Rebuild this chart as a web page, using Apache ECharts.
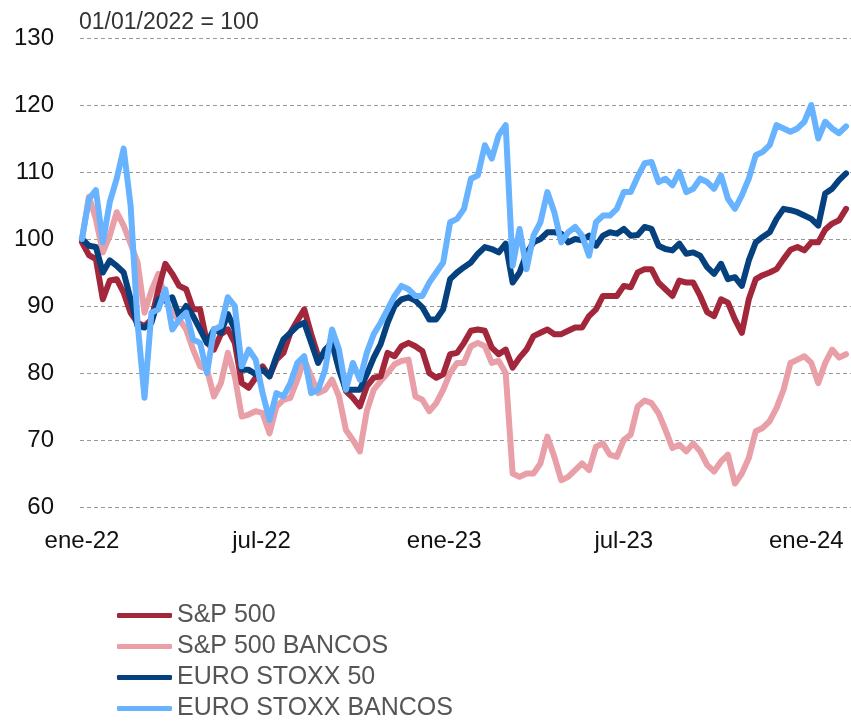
<!DOCTYPE html>
<html>
<head>
<meta charset="utf-8">
<script src="https://cdn.jsdelivr.net/npm/echarts@6/dist/echarts.min.js"></script>
<style>
  html, body { margin: 0; padding: 0; background: #fff; }
  #chart { width: 851px; height: 722px; }
</style>
</head>
<body>
<div id="chart"></div>
<script>
// datos semanales, base 01/01/2022 = 100
const sp500 = [
  99.5, 97.6, 97, 91, 93.8, 94, 92, 89, 87.5, 87, 88, 92.5, 96.3, 94.8, 93, 92.5, 89.5, 89.5, 84.5, 83.5,
  85.8, 86.5, 84.5, 78.5, 77.8, 79.3, 81, 79.5, 82, 83, 86, 87.8, 89.5, 85.8, 82.5, 82.5, 85.3, 81.5, 77.3, 76.3,
  75, 78, 79.3, 79.5, 83, 82.5, 84, 84.5, 84, 83.3, 80, 79.3, 79.8, 82.8, 83, 84.5, 86.3, 86.5, 86.3,
  83.8, 82.8, 83.5, 80.8, 82.3, 83.5, 85.5, 86, 86.5, 85.8, 85.8, 86.3, 86.8, 86.8, 88.5, 89.5, 91.5, 91.5, 91.5, 93,
  92.8, 95, 95.5, 95.5, 93.5, 92.5, 91.5, 93.8, 93.5, 93.5, 91.5, 89.1, 88.5, 91, 90.5, 88, 86, 91, 94,
  94.6, 95, 95.5, 97, 98.4, 98.8, 98.3, 99.5, 99.5, 101.4, 102.3, 102.8, 104.5
];
const sp500Bancos = [
  100, 106.3, 103, 98, 100.5, 104, 102, 99.3, 96.5, 89, 92.3, 94.8, 91, 88.8, 88, 86.5, 83.5, 81, 80.5, 76.5,
  78.5, 83, 79.5, 73.5, 73.8, 74.3, 74, 71, 75, 76, 76.3, 79, 82, 79.5, 77, 77.5, 79, 76.5, 71.5, 70,
  68.3, 74.3, 77.5, 78.8, 80, 81.3, 81.8, 82, 76.5, 76, 74.3, 75.5, 77.5, 80, 81.5, 81.5, 84, 84.5, 84,
  81.5, 81.8, 80, 65, 64.5, 65, 65, 66.5, 70.5, 67.5, 64, 64.5, 65.5, 66.5, 65.5, 69, 69.5, 67.8, 67.5, 70,
  70.8, 75, 75.9, 75.5, 74, 71.5, 68.8, 69.3, 68.3, 69.5, 68.3, 66.3, 65.3, 66.8, 67.8, 63.5, 65, 67.3, 71.3,
  71.8, 72.8, 74.8, 77.5, 81.5, 82, 82.5, 81.5, 78.5, 81.5, 83.5, 82.3, 82.8
];
const euroStoxx50 = [
  100, 99, 98.8, 95, 96.8, 96, 95, 91, 87, 86.8, 87.5, 91, 90.8, 91.3, 88.5, 90, 88.5, 86.5, 84.5, 86.5,
  86, 88.8, 86.5, 80.5, 80.5, 79.8, 80.5, 79.5, 82.5, 85, 86, 87, 87.5, 84.5, 81.5, 83.5, 84.5, 80.5, 77.5, 77.5,
  77.5, 79.8, 82.3, 84.3, 87.5, 90, 91, 91.3, 90.8, 89.8, 88, 88, 89.5, 94, 95, 95.8, 96.5, 97.8, 98.8,
  98.5, 98, 99.3, 93.5, 95, 97.8, 99.5, 100, 101, 101, 100.8, 99.5, 100, 99.8, 100.5, 99, 100.5, 101, 100.8, 101.5,
  100.5, 100.6, 101.8, 101.5, 99, 98.5, 98.3, 99.3, 97.8, 98, 97.5, 95.8, 94.8, 96.3, 94, 94.3, 93, 96.8, 99.5,
  100.3, 101, 103, 104.5, 104.3, 104, 103.5, 103, 102, 106.8, 107.5, 108.8, 109.8
];
const euroStoxxBancos = [
  100, 106, 107.3, 99.5, 105.5, 109, 113.5, 105, 87.5, 76.3, 89, 89.5, 92.5, 86.5, 88, 89, 85, 84.5, 80, 86.5,
  87, 91.3, 90, 81, 83.5, 82, 77, 73, 77, 76.5, 78.5, 81.5, 82.5, 77, 77.5, 80.5, 86.5, 83.5, 77.5, 81.5,
  79, 83, 85.8, 87.5, 89.5, 91.5, 93, 92.5, 91.5, 91.5, 93.5, 95, 96.5, 102.5, 103, 104.5, 109, 109.5, 114,
  112, 115.5, 117, 96, 101.5, 95.5, 100.5, 102.5, 107, 104, 99.5, 101, 101.8, 100.5, 97.5, 102.5, 103.5, 103.5, 104.5, 107,
  107, 109.3, 111.3, 111.5, 108.5, 109, 108, 110, 107, 107.5, 109, 108.5, 107.5, 109.5, 106, 104.5, 106.5, 109, 112.5,
  113, 114, 117, 116.5, 116, 116.5, 117.5, 120, 115, 117.5, 116.5, 115.8, 116.8
];

// dias desde 01/01/2022 de las etiquetas del eje x
const tickDias = [0, 181, 365, 546, 730];
const tickLabels = ['ene-22', 'jul-22', 'ene-23', 'jul-23', 'ene-24'];

const nombres = ['S&P 500', 'S&P 500 BANCOS', 'EURO STOXX 50', 'EURO STOXX BANCOS'];
const colores = ['#A3273A', '#E89FA7', '#05407F', '#67B3FF'];

const myChart = echarts.init(document.getElementById('chart'));

function serie(nombre, valores, color, z) {
  return {
    name: nombre,
    type: 'line',
    showSymbol: false,
    symbol: 'none',
    z: z,
    data: valores.map((v, i) => [i * 7, v]),
    lineStyle: { color: color, width: 6, cap: 'round', join: 'round' },
    itemStyle: { color: color },
    emphasis: { disabled: true }
  };
}

const option = {
  animation: false,
  textStyle: { fontFamily: 'Liberation Sans, Arial, sans-serif' },
  title: {
    text: '01/01/2022 = 100',
    left: 74,
    top: 6,
    textStyle: { fontSize: 23, fontWeight: 'normal', color: '#333' }
  },
  legend: {
    orient: 'vertical',
    left: 117,
    top: 603,
    height: 160,
    padding: 0,
    itemWidth: 55,
    itemHeight: 5,
    itemGap: 6,
    icon: 'roundRect',
    data: nombres,
    textStyle: { fontSize: 25, lineHeight: 25, color: '#555' }
  },
  grid: {
    left: 80,
    right: 0,
    top: 38,
    bottom: 215,
    containLabel: false
  },
  xAxis: {
    type: 'value',
    min: -2,
    max: 775,
    axisLine: { show: false },
    axisTick: { show: false },
    splitLine: { show: false },
    axisLabel: {
      customValues: tickDias,
      formatter: function (v) {
        return tickLabels[tickDias.indexOf(v)] || '';
      },
      fontSize: 24,
      color: '#111',
      margin: 22
    }
  },
  yAxis: {
    type: 'value',
    min: 60,
    max: 130,
    interval: 10,
    axisLine: { show: false },
    axisTick: { show: false },
    axisLabel: { fontSize: 24, color: '#111', margin: 26 },
    splitLine: {
      show: true,
      lineStyle: { color: '#999', width: 1, type: [4, 3] }
    }
  },
  series: [
    serie(nombres[0], sp500, colores[0], 3),
    serie(nombres[1], sp500Bancos, colores[1], 2),
    serie(nombres[2], euroStoxx50, colores[2], 4),
    serie(nombres[3], euroStoxxBancos, colores[3], 5)
  ]
};

myChart.setOption(option);
</script>
</body>
</html>
